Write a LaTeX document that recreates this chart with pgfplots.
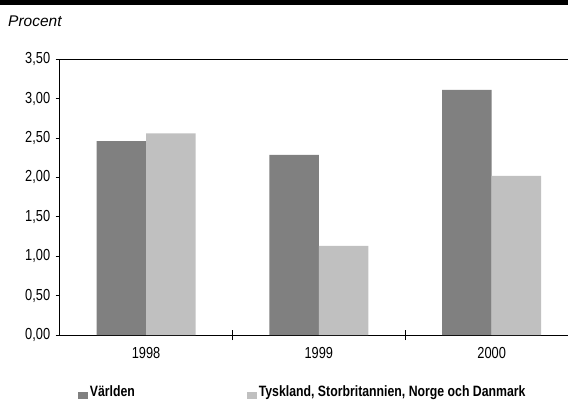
\documentclass[border=0pt]{standalone}
\usepackage{fontspec}
\usepackage{pgfplots}
\pgfplotsset{compat=1.18}
\setmainfont{Liberation Sans}
\newfontfamily\condfont{Liberation Sans}[FakeStretch=0.8]
\newfontfamily\legfont{Liberation Sans}[FakeStretch=0.82]
\definecolor{darkbar}{HTML}{808080}
\definecolor{lightbar}{HTML}{C0C0C0}
\begin{document}
\begin{tikzpicture}
\begin{axis}[
  scale only axis, width=508.3pt, height=276pt,
  xmin=-0.5, xmax=2.439, ymin=0, ymax=3.5,
  axis lines*=left,
  axis line style={line width=1pt, black},
  ytick={0,0.5,1,1.5,2,2.5,3,3.5},
  tick align=outside, major tick length=4pt,
  tick style={black, line width=0.8pt},
  xtick={0,1,2}, xticklabels={1998,1999,2000},
  xtick style={draw=none},
  extra x ticks={0.5,1.5}, extra x tick labels={},
  extra x tick style={xtick style={draw=black, line width=0.8pt}, tick align=center, major tick length=10pt},
  /pgf/number format/assume math mode=true,
  yticklabel={\pgfmathprintnumber[fixed, fixed zerofill, precision=2, use comma]{\tick}},
  ticklabel style={font=\condfont\fontsize{16}{18}\selectfont},
  yticklabel style={xshift=-2pt},
  xticklabel style={yshift=-5pt},
  legend columns=2,
  legend image code/.code={\fill[#1] (0pt,-7pt) rectangle (10pt,0pt);},
  legend style={draw=none, fill=none, at={(axis description cs:0,0)}, anchor=south west,
    xshift=18pt, yshift=-65pt, inner sep=0pt,
    font=\legfont\bfseries\fontsize{15}{17}\selectfont,
    /tikz/every even column/.append style={column sep=110pt}},
  legend cell align=left,
]
\addplot[ybar, bar width=49.5pt, bar shift=-24.75pt, fill=darkbar, draw=none]
  coordinates {(0,2.46) (1,2.285) (2,3.11)};
\addlegendentry{Världen}
\addplot[ybar, bar width=49.5pt, bar shift=24.75pt, fill=lightbar, draw=none]
  coordinates {(0,2.56) (1,1.13) (2,2.02)};
\addlegendentry{Tyskland, Storbritannien, Norge och Danmark}
\end{axis}
\draw[line width=1pt, black] (0pt,276pt) -- (508.3pt,276pt);
\fill[black] (-59.7pt,330.3pt) rectangle (508.3pt,335.3pt);
\node[anchor=base west, inner sep=0pt, font=\itshape\fontsize{15.5}{18}\selectfont] at (-51.7pt,308.3pt) {Procent};
\path (-59.7pt,-64.7pt) rectangle (508.3pt,335.3pt);
\end{tikzpicture}
\end{document}
